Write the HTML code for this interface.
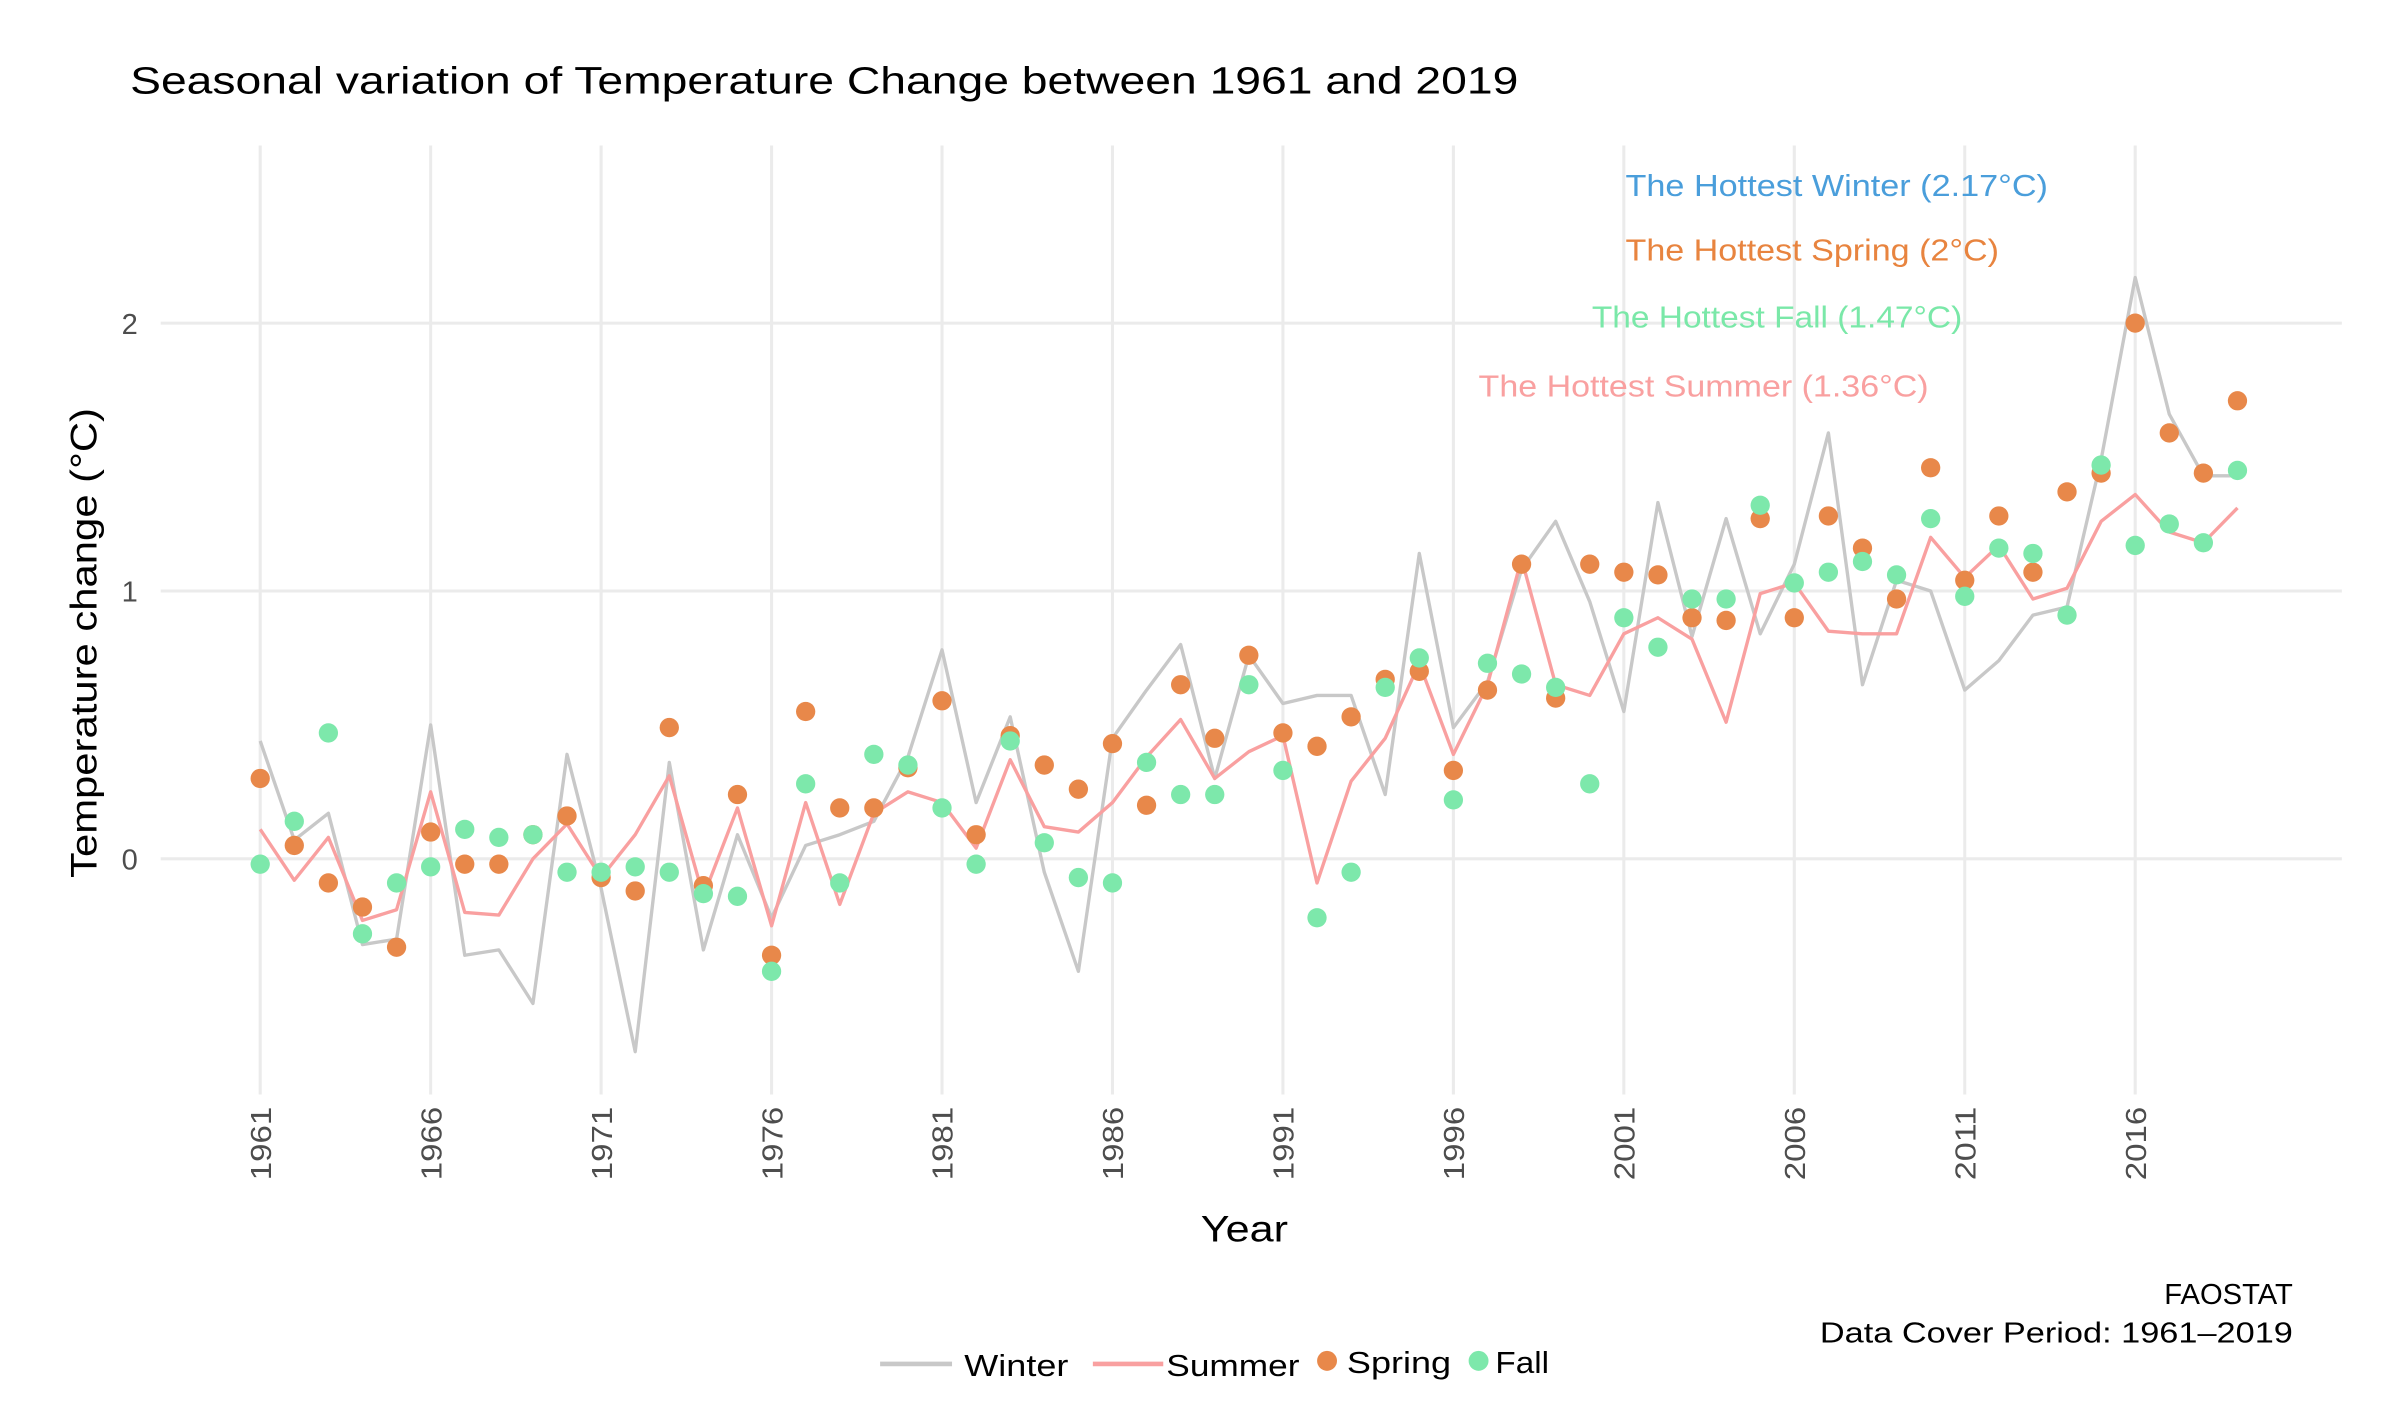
<!DOCTYPE html>
<html><head><meta charset="utf-8"><style>
html,body{margin:0;padding:0;background:#fff;}
svg{display:block;font-family:"Liberation Sans",sans-serif;}
</style></head><body>
<svg id="chart" width="2400" height="1410" viewBox="0 0 1568 921" xmlns="http://www.w3.org/2000/svg">
<rect width="1568" height="921" fill="#fff"/>
<text x="85" y="61" font-size="25" fill="#000" textLength="907" lengthAdjust="spacingAndGlyphs">Seasonal variation of Temperature Change between 1961 and 2019</text>
<g id="grid"></g>
<g id="series"></g>
<g id="ticks"></g>
<text transform="translate(63,420) rotate(-90)" text-anchor="middle" font-size="24" textLength="307" lengthAdjust="spacingAndGlyphs">Temperature change (°C)</text>
<text x="813" y="811" text-anchor="middle" font-size="24" textLength="57" lengthAdjust="spacingAndGlyphs">Year</text>
<text x="1062" y="128" font-size="20" fill="#4a9edb" textLength="276" lengthAdjust="spacingAndGlyphs">The Hottest Winter (2.17°C)</text>
<text x="1062" y="170" font-size="20" fill="#e8843f" textLength="244" lengthAdjust="spacingAndGlyphs">The Hottest Spring (2°C)</text>
<text x="1040" y="214" font-size="20" fill="#7ae8a8" textLength="242" lengthAdjust="spacingAndGlyphs">The Hottest Fall (1.47°C)</text>
<text x="966" y="259" font-size="20" fill="#f9a0a0" textLength="294" lengthAdjust="spacingAndGlyphs">The Hottest Summer (1.36°C)</text>
<text x="1498" y="852" text-anchor="end" font-size="19" textLength="84" lengthAdjust="spacingAndGlyphs">FAOSTAT</text>
<text x="1498" y="877" text-anchor="end" font-size="19" textLength="309" lengthAdjust="spacingAndGlyphs">Data Cover Period: 1961–2019</text>
<g>
<line x1="575" y1="891" x2="622" y2="891" stroke="#c8c8c8" stroke-width="3"/>
<text x="630" y="899" font-size="20" textLength="68" lengthAdjust="spacingAndGlyphs">Winter</text>
<line x1="714" y1="891" x2="760" y2="891" stroke="#f9a0a0" stroke-width="3"/>
<text x="762" y="899" font-size="20" textLength="87" lengthAdjust="spacingAndGlyphs">Summer</text>
<circle cx="867" cy="889" r="6.5" fill="#e8884a"/>
<text x="880" y="897" font-size="20" textLength="68" lengthAdjust="spacingAndGlyphs">Spring</text>
<circle cx="966" cy="889" r="6.5" fill="#7de8ab"/>
<text x="977" y="897" font-size="20" textLength="35" lengthAdjust="spacingAndGlyphs">Fall</text>
</g>
</svg>
<script>
const years = [];
for (let y = 1961; y <= 2019; y++) years.push(y);
const winter = [0.44,0.07,0.17,-0.32,-0.30,0.50,-0.36,-0.34,-0.54,0.39,-0.11,-0.72,0.36,-0.34,0.09,-0.22,0.05,0.09,0.14,0.38,0.78,0.21,0.53,-0.05,-0.42,0.45,0.63,0.80,0.30,0.76,0.58,0.61,0.61,0.24,1.14,0.49,0.66,1.08,1.26,0.96,0.55,1.33,0.83,1.27,0.84,1.10,1.59,0.65,1.04,1.00,0.63,0.74,0.91,0.94,1.49,2.17,1.66,1.43,1.43];
const summer = [0.11,-0.08,0.08,-0.23,-0.19,0.25,-0.20,-0.21,0.00,0.13,-0.07,0.09,0.31,-0.14,0.19,-0.25,0.21,-0.17,0.17,0.25,0.21,0.04,0.37,0.12,0.10,0.21,0.38,0.52,0.30,0.40,0.46,-0.09,0.29,0.45,0.73,0.39,0.65,1.12,0.65,0.61,0.84,0.90,0.82,0.51,0.99,1.03,0.85,0.84,0.84,1.20,1.05,1.17,0.97,1.01,1.26,1.36,1.22,1.18,1.31];
const spring = [0.30,0.05,-0.09,-0.18,-0.33,0.10,-0.02,-0.02,0.09,0.16,-0.07,-0.12,0.49,-0.10,0.24,-0.36,0.55,0.19,0.19,0.34,0.59,0.09,0.46,0.35,0.26,0.43,0.20,0.65,0.45,0.76,0.47,0.42,0.53,0.67,0.70,0.33,0.63,1.10,0.60,1.10,1.07,1.06,0.90,0.89,1.27,0.90,1.28,1.16,0.97,1.46,1.04,1.28,1.07,1.37,1.44,2.00,1.59,1.44,1.71];
const fall = [-0.02,0.14,0.47,-0.28,-0.09,-0.03,0.11,0.08,0.09,-0.05,-0.05,-0.03,-0.05,-0.13,-0.14,-0.42,0.28,-0.09,0.39,0.35,0.19,-0.02,0.44,0.06,-0.07,-0.09,0.36,0.24,0.24,0.65,0.33,-0.22,-0.05,0.64,0.75,0.22,0.73,0.69,0.64,0.28,0.90,0.79,0.97,0.97,1.32,1.03,1.07,1.11,1.06,1.27,0.98,1.16,1.14,0.91,1.47,1.17,1.25,1.18,1.45];
const xTicks = [1961,1966,1971,1976,1981,1986,1991,1996,2001,2006,2011,2016];
const yTicks = [0,1,2];

const NS = "http://www.w3.org/2000/svg";
function xs(yr){ return 170 + (yr - 1961) * (1395 - 170) / 55; }
function ys(v){ return 561 - v * 175; }
function mk(tag, attrs, parent){ const e = document.createElementNS(NS, tag); for (const k in attrs) e.setAttribute(k, attrs[k]); parent.appendChild(e); return e; }

const grid = document.getElementById('grid');
const ticks = document.getElementById('ticks');
const series = document.getElementById('series');

yTicks.forEach(v => {
  const l = mk('line', {x1:105, x2:1530, y1:ys(v), y2:ys(v), stroke:'#ebebeb', 'stroke-width':2}, grid);
  
  
  const t = mk('text', {x:90, y:ys(v)+7, 'text-anchor':'end', 'font-size':19, fill:'#4d4d4d'}, ticks);
  
  
  t.textContent = v;
});
xTicks.forEach(yr => {
  const l = mk('line', {x1:xs(yr), x2:xs(yr), y1:95, y2:715, stroke:'#ebebeb', 'stroke-width':2}, grid);
  
  
  const t = mk('text', {transform:'translate(' + (xs(yr)+7) + ',723) rotate(-90)', 'text-anchor':'end', 'font-size':19, fill:'#4d4d4d', textLength:48, lengthAdjust:'spacingAndGlyphs'}, ticks);
  
  
  t.textContent = yr;
});

function line(vals, color, name){
  const d = vals.map((v,i) => (i ? 'L' : 'M') + xs(years[i]).toFixed(2) + ',' + ys(v).toFixed(2)).join('');
  const p = mk('path', {d:d, fill:'none', stroke:color, 'stroke-width':2.2, 'stroke-linejoin':'round'}, series);
  
  
}
line(winter, '#c8c8c8', 'winter-line');
line(summer, '#f9a0a0', 'summer-line');

function dots(vals, color, name){
  vals.forEach((v,i) => {
    const c = mk('circle', {cx:xs(years[i]), cy:ys(v), r:6.3, fill:color}, series);
    
    
  });
}
dots(spring, '#e8884a', 'spring-point');
dots(fall, '#7de8ab', 'fall-point');
</script>
</body></html>
